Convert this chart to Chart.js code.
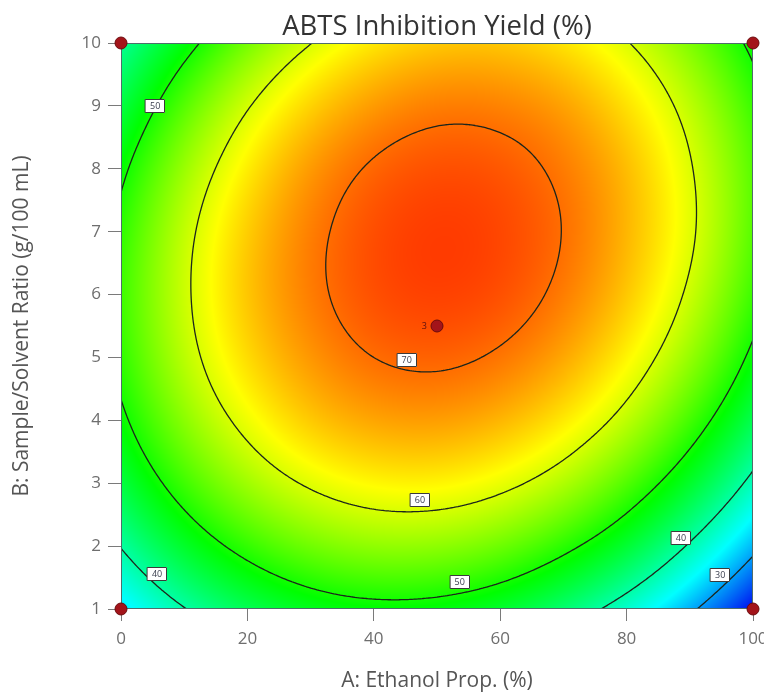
<!DOCTYPE html>
<html>
<head>
<meta charset="utf-8">
<script src="https://cdn.jsdelivr.net/npm/chart.js@4.4.1/dist/chart.umd.min.js"></script>
<style>
html,body{margin:0;padding:0;background:#ffffff;}
#wrap{position:relative;width:764px;height:694px;}
</style>
</head>
<body>
<div id="wrap"><canvas id="chart"></canvas></div>
<script>
// ---------------- data ----------------
const chartTitle = 'ABTS Inhibition Yield (%)';
const xTitle = 'A: Ethanol Prop. (%)';
const yTitle = 'B: Sample/Solvent Ratio (g/100 mL)';

// grid nodes of the response surface
const gridA = [0, 10, 20, 30, 40, 50, 60, 70, 80, 90, 100];
const gridB = [1, 2, 3, 4, 5, 6, 7, 8, 9, 10];
// estimated ABTS inhibition yield (%) at each node, one row per B value
const yieldB1  = [33.6, 39.8, 44.4, 47.4, 48.7, 48.4, 46.5, 42.9, 37.7, 30.9, 22.4];
const yieldB2  = [40.2, 46.7, 51.5, 54.7, 56.3, 56.2, 54.5, 51.1, 46.2, 39.5, 31.3];
const yieldB3  = [45.4, 52.1, 57.1, 60.5, 62.3, 62.5, 61.0, 57.9, 53.1, 46.7, 38.7];
const yieldB4  = [49.1, 56.0, 61.2, 64.9, 66.9, 67.3, 66.0, 63.1, 58.6, 52.4, 44.6];
const yieldB5  = [51.3, 58.4, 63.9, 67.7, 70.0, 70.6, 69.5, 66.8, 62.5, 56.6, 49.0];
const yieldB6  = [52.0, 59.3, 65.1, 69.1, 71.6, 72.4, 71.6, 69.1, 65.0, 59.3, 52.0];
const yieldB7  = [51.2, 58.8, 64.7, 69.0, 71.7, 72.7, 72.1, 69.9, 66.0, 60.6, 53.4];
const yieldB8  = [49.0, 56.8, 62.9, 67.5, 70.4, 71.6, 71.2, 69.2, 65.6, 60.3, 53.4];
const yieldB9  = [45.3, 53.3, 59.7, 64.4, 67.5, 69.0, 68.8, 67.1, 63.6, 58.6, 51.9];
const yieldB10 = [40.8, 48.3, 54.9, 59.9, 63.2, 64.9, 65.0, 63.4, 60.2, 55.4, 48.9];
const yieldGrid = [yieldB1, yieldB2, yieldB3, yieldB4, yieldB5, yieldB6, yieldB7, yieldB8, yieldB9, yieldB10];

// contour levels and where their labels sit
const contourLevels = [30, 40, 50, 60, 70];
const labelText = ['50', '70', '60', '50', '40', '40', '30'];
const labelA    = [5.4, 45.2, 47.3, 53.6, 5.7, 88.6, 94.8];
const labelB    = [9.0, 4.96, 2.73, 1.43, 1.56, 2.13, 1.54];

// design points
const designA = [0, 100, 0, 100, 50];
const designB = [1, 1, 10, 10, 5.5];
const designReps = ['', '', '', '', '3'];

// axis ticks
const xTickStep = 20, xMin = 0, xMax = 100;
const yTickStep = 1, yMin = 1, yMax = 10;

// ---------------- surface helpers ----------------
const NX = gridA.length, NY = gridB.length;
function ext(i, j) {
  if (i < 0) return 3 * ext(0, j) - 3 * ext(1, j) + ext(2, j);
  if (i > NX - 1) return 3 * ext(NX - 1, j) - 3 * ext(NX - 2, j) + ext(NX - 3, j);
  if (j < 0) return 3 * ext(i, 0) - 3 * ext(i, 1) + ext(i, 2);
  if (j > NY - 1) return 3 * ext(i, NY - 1) - 3 * ext(i, NY - 2) + ext(i, NY - 3);
  return yieldGrid[j][i];
}
const padded = [];
for (let j = -1; j <= NY; j++) {
  const r = [];
  for (let i = -1; i <= NX; i++) r.push(ext(i, j));
  padded.push(r);
}
function cr(p0, p1, p2, p3, t) {
  return p1 + 0.5 * t * (p2 - p0 + t * (2 * p0 - 5 * p1 + 4 * p2 - p3 + t * (3 * (p1 - p2) + p3 - p0)));
}
function fieldAt(A, B) {
  const u = (A - gridA[0]) / (gridA[1] - gridA[0]);
  const v = (B - gridB[0]) / (gridB[1] - gridB[0]);
  let i = Math.floor(u), j = Math.floor(v);
  i = Math.max(0, Math.min(NX - 2, i));
  j = Math.max(0, Math.min(NY - 2, j));
  const tu = u - i, tv = v - j;
  const c = [];
  for (let k = 0; k < 4; k++) {
    const r = padded[j + k];
    c.push(cr(r[i], r[i + 1], r[i + 2], r[i + 3], tu));
  }
  return cr(c[0], c[1], c[2], c[3], tv);
}
// colour ramp blue - cyan - green - yellow - red
const rampV = [22, 35, 49, 62, 76];
const rampC = [[0, 0, 240], [0, 255, 255], [0, 255, 0], [255, 255, 0], [255, 0, 0]];
function colorFor(v) {
  if (v <= rampV[0]) return rampC[0];
  if (v >= rampV[rampV.length - 1]) return rampC[rampC.length - 1];
  for (let k = 0; k < rampV.length - 1; k++) {
    if (v <= rampV[k + 1]) {
      const t = (v - rampV[k]) / (rampV[k + 1] - rampV[k]);
      const a = rampC[k], b = rampC[k + 1];
      return [a[0] + (b[0] - a[0]) * t, a[1] + (b[1] - a[1]) * t, a[2] + (b[2] - a[2]) * t];
    }
  }
  return rampC[0];
}

const FONT = '"Open Sans", "Noto Sans", "DejaVu Sans", sans-serif';

const surfacePlugin = {
  id: 'surface',
  beforeDatasetsDraw(chart) {
    const { ctx, chartArea, scales } = chart;
    const xs = scales.x, ys = scales.y;
    const left = chartArea.left, top = chartArea.top;
    const w = Math.round(chartArea.right - chartArea.left);
    const h = Math.round(chartArea.bottom - chartArea.top);
    // heat map
    const off = document.createElement('canvas');
    off.width = w; off.height = h;
    const octx = off.getContext('2d');
    const img = octx.createImageData(w, h);
    for (let py = 0; py < h; py++) {
      const B = ys.getValueForPixel(top + py + 0.5);
      for (let px = 0; px < w; px++) {
        const A = xs.getValueForPixel(left + px + 0.5);
        const c = colorFor(fieldAt(A, B));
        const o = (py * w + px) * 4;
        img.data[o] = c[0]; img.data[o + 1] = c[1]; img.data[o + 2] = c[2]; img.data[o + 3] = 255;
      }
    }
    octx.putImageData(img, 0, 0);
    ctx.save();
    ctx.drawImage(off, left, top);

    // contour lines (marching squares on a fine sampling of the surface)
    ctx.beginPath();
    ctx.rect(chartArea.left, chartArea.top, chartArea.right - chartArea.left, chartArea.bottom - chartArea.top);
    ctx.clip();
    const NA = 300, NB = 270;
    const vals = new Float64Array((NA + 1) * (NB + 1));
    const Av = [], Bv = [];
    for (let i = 0; i <= NA; i++) Av.push(xMin + (xMax - xMin) * i / NA);
    for (let j = 0; j <= NB; j++) Bv.push(yMin + (yMax - yMin) * j / NB);
    for (let j = 0; j <= NB; j++) for (let i = 0; i <= NA; i++) vals[j * (NA + 1) + i] = fieldAt(Av[i], Bv[j]);
    ctx.strokeStyle = '#1c251c';
    ctx.lineWidth = 1.3;
    ctx.lineJoin = 'round'; ctx.lineCap = 'round';
    ctx.beginPath();
    for (const L of contourLevels) {
      for (let j = 0; j < NB; j++) {
        for (let i = 0; i < NA; i++) {
          const v00 = vals[j * (NA + 1) + i], v10 = vals[j * (NA + 1) + i + 1];
          const v01 = vals[(j + 1) * (NA + 1) + i], v11 = vals[(j + 1) * (NA + 1) + i + 1];
          const pts = [];
          const edge = (va, vb, A1, B1, A2, B2) => {
            if ((va < L) !== (vb < L)) {
              const t = (L - va) / (vb - va);
              pts.push([A1 + (A2 - A1) * t, B1 + (B2 - B1) * t]);
            }
          };
          edge(v00, v10, Av[i], Bv[j], Av[i + 1], Bv[j]);
          edge(v10, v11, Av[i + 1], Bv[j], Av[i + 1], Bv[j + 1]);
          edge(v11, v01, Av[i + 1], Bv[j + 1], Av[i], Bv[j + 1]);
          edge(v01, v00, Av[i], Bv[j + 1], Av[i], Bv[j]);
          for (let k = 0; k + 1 < pts.length; k += 2) {
            ctx.moveTo(xs.getPixelForValue(pts[k][0]), ys.getPixelForValue(pts[k][1]));
            ctx.lineTo(xs.getPixelForValue(pts[k + 1][0]), ys.getPixelForValue(pts[k + 1][1]));
          }
        }
      }
    }
    ctx.stroke();

    // contour labels
    ctx.font = '9px ' + FONT;
    ctx.textAlign = 'center';
    ctx.textBaseline = 'middle';
    for (let k = 0; k < labelText.length; k++) {
      const px = xs.getPixelForValue(labelA[k]), py = ys.getPixelForValue(labelB[k]);
      const bw = 20, bh = 14;
      ctx.fillStyle = '#ffffff';
      ctx.fillRect(Math.round(px - bw / 2), Math.round(py - bh / 2), bw, bh);
      ctx.strokeStyle = '#3a3a3a';
      ctx.lineWidth = 1;
      ctx.strokeRect(Math.round(px - bw / 2) + 0.5, Math.round(py - bh / 2) + 0.5, bw - 1, bh - 1);
      ctx.fillStyle = '#3c4050';
      ctx.fillText(labelText[k], px, py + 0.5);
    }
    ctx.restore();

    // plot frame
    ctx.save();
    ctx.strokeStyle = '#4f6d6b';
    ctx.lineWidth = 1;
    ctx.strokeRect(Math.round(chartArea.left) + 0.5, Math.round(chartArea.top) + 0.5,
      Math.round(chartArea.right - chartArea.left) - 1, Math.round(chartArea.bottom - chartArea.top) - 1);
    ctx.restore();
  },
  afterDatasetsDraw(chart) {
    const { ctx, scales } = chart;
    ctx.save();
    ctx.font = '9px ' + FONT;
    ctx.fillStyle = '#5a1010';
    ctx.textAlign = 'right';
    ctx.textBaseline = 'middle';
    for (let k = 0; k < designReps.length; k++) {
      if (!designReps[k]) continue;
      ctx.fillText(designReps[k], scales.x.getPixelForValue(designA[k]) - 10, scales.y.getPixelForValue(designB[k]));
    }
    // chart title centred over the plot
    const ca = chart.chartArea;
    ctx.font = '27.5px ' + FONT;
    ctx.fillStyle = '#333333';
    ctx.textAlign = 'center';
    ctx.textBaseline = 'middle';
    ctx.fillText(chartTitle, (ca.left + ca.right) / 2, 27);
    ctx.restore();
  }
};

const points = designA.map((a, k) => ({ x: a, y: designB[k] }));

new Chart(document.getElementById('chart'), {
  type: 'scatter',
  data: {
    datasets: [{
      label: 'Design points',
      data: points,
      pointRadius: 6,
      pointHoverRadius: 6,
      backgroundColor: '#a3141a',
      borderColor: '#6b0a0c',
      borderWidth: 1,
      clip: false
    }]
  },
  options: {
    responsive: true,
    maintainAspectRatio: false,
    animation: false,
    events: [],
    layout: { padding: { top: 43, right: 11, left: 0, bottom: 0 } },
    plugins: { legend: { display: false }, tooltip: { enabled: false }, title: { display: false } },
    scales: {
      x: {
        type: 'linear', min: xMin, max: xMax,
        afterFit(scale) { scale.height = 85; scale.paddingLeft = 0; scale.paddingRight = 0; },
        ticks: { stepSize: xTickStep, color: '#6e6e6e', font: { family: FONT, size: 17 }, padding: 8, maxRotation: 0 },
        grid: { drawOnChartArea: false, drawTicks: true, tickLength: 12, color: '#7a7a7a' },
        border: { display: false },
        title: { display: true, text: xTitle, color: '#555555', font: { family: FONT, size: 21 }, padding: { top: 0, bottom: 0 } }
      },
      y: {
        type: 'linear', min: yMin, max: yMax,
        afterFit(scale) { scale.width = 121; scale.paddingTop = 0; scale.paddingBottom = 0; },
        ticks: { stepSize: yTickStep, color: '#6e6e6e', font: { family: FONT, size: 17 }, padding: 7 },
        grid: { drawOnChartArea: false, drawTicks: true, tickLength: 13, color: '#7a7a7a' },
        border: { display: false },
        title: { display: true, text: yTitle, color: '#555555', font: { family: FONT, size: 21 }, padding: { top: 9, bottom: 0 } }
      }
    }
  },
  plugins: [surfacePlugin]
});
</script>
</body>
</html>
